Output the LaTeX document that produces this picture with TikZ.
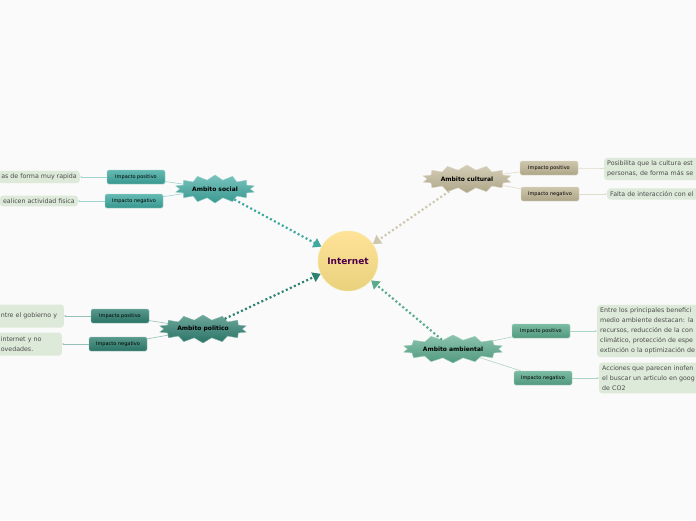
\documentclass[tikz,border=0pt]{standalone}
\usepackage{fontspec}
\setmainfont{DejaVu Sans}
\usetikzlibrary{shapes.symbols,arrows.meta}
\definecolor{soc}{HTML}{3FA9A0}
\definecolor{pol}{HTML}{2E8070}
\definecolor{cul}{HTML}{C2B898}
\definecolor{amb}{HTML}{5AAA8C}
\definecolor{txtbg}{HTML}{DDE9D9}
\tikzset{
 star/.style={starburst, starburst points=14, starburst point height=5pt, random starburst=0, top color=#1!70, bottom color=#1!90!black, draw=#1!60, inner sep=2pt, minimum width=70pt, minimum height=28pt, font=\fontsize{6}{7}\selectfont\bfseries},
 imp/.style={rounded corners=1.5pt, top color=#1!80, bottom color=#1!90!black, draw=#1!50, minimum width=58pt, minimum height=14pt, inner sep=1pt, font=\fontsize{5}{6}\selectfont},
 tb/.style={rounded corners=3pt, fill=txtbg, inner sep=3pt, font=\fontsize{6.3}{10}\selectfont, text=black!70, align=left},
 link/.style={draw=#1!50, line width=0.6pt},
 dot/.style={draw=#1, line width=2.2pt, dash pattern=on 2pt off 2.5pt, -{Triangle[length=8pt,width=10pt,fill=#1]}},
}
\begin{document}
\begin{tikzpicture}[x=1pt,y=-1pt]
\useasboundingbox (0,0) rectangle (696,520);
\fill[white!98!black] (0,0) rectangle (696,520);
\clip (0,0) rectangle (696,520);
\node[circle, minimum size=60pt, top color=yellow!45!orange!40!white, bottom color=yellow!40!brown!60!white, draw=yellow!60!brown!40, font=\fontsize{9}{10}\selectfont\bfseries, text=violet!60!black] (int) at (348,261) {Internet};
% social
\node[star=soc] (soc) at (215,189) {Ambito social};
\node[imp=soc] (sp) at (136,177) {Impacto positivo};
\node[imp=soc] (sn) at (134,201) {Impacto negativo};
\node[tb, anchor=east] (spt) at (80,177) {as de forma muy rapida};
\node[tb, anchor=east] (snt) at (78,201) {ealicen actividad fisica};
% politico
\node[star=pol] (pol) at (203,329) {Ambito politico};
\node[imp=pol] (pp) at (120,316) {Impacto positivo};
\node[imp=pol] (pn) at (118,344) {Impacto negativo};
\node[tb, anchor=east, minimum height=23pt, text width=60pt] (ppt) at (64,316) {ntre el gobierno y\\ };
\node[tb, anchor=east, minimum height=23pt, text width=58pt] (pnt) at (62,344) {internet y no\\ovedades.};
% cultural
\node[star=cul] (cul) at (467,179) {Ambito cultural};
\node[imp=cul] (cp) at (549,168) {Impacto positivo};
\node[imp=cul] (cn) at (550,194) {Impacto negativo};
\node[tb, anchor=west, text width=110pt] (cpt) at (604,169) {Posibilita que la cultura est\\personas, de forma más se};
\node[tb, anchor=west, text width=110pt] (cnt) at (607,194) {Falta de interacción con el};
% ambiental
\node[star=amb] (amb) at (453,349) {Ambito ambiental};
\node[imp=amb] (ap) at (541,331) {Impacto positivo};
\node[imp=amb] (an) at (543,378) {Impacto negativo};
\node[tb, anchor=west, text width=110pt] (apt) at (597,331) {Entre los principales benefici\\medio ambiente destacan: la\\recursos, reducción de la con\\climático, protección de espe\\extinción o la optimización de};
\node[tb, anchor=west, text width=110pt] (ant) at (599,378) {Acciones que parecen inofen\\el buscar un articulo en goog\\de CO2};
% links
\foreach \a/\b/\c in {soc/sp/soc,soc/sn/soc,pol/pp/pol,pol/pn/pol,cul/cp/cul,cul/cn/cul,amb/ap/amb,amb/an/amb}
  \draw[link=\c] (\a) -- (\b);
\foreach \a/\b/\c in {sp/spt/soc,sn/snt/soc,pp/ppt/pol,pn/pnt/pol,cp/cpt/cul,cn/cnt/cul,ap/apt/amb,an/ant/amb}
  \draw[link=\c, -{Stealth[length=2pt]}] (\a) -- (\b);
\draw[dot=soc] (soc) -- (int);
\draw[dot=pol] (pol) -- (int);
\draw[dot=cul!80] (cul) -- (int);
\draw[dot=amb] (amb) -- (int);
\end{tikzpicture}
\end{document}
